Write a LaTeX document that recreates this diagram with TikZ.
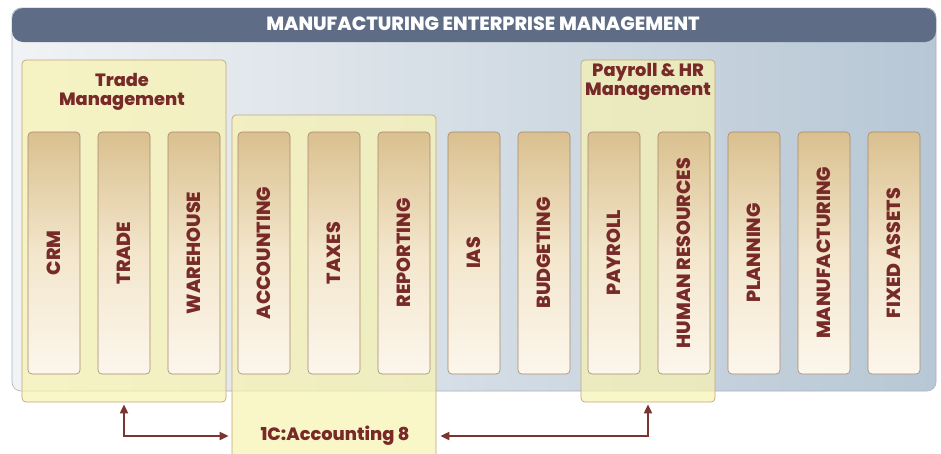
\documentclass[tikz,border=0pt]{standalone}
\usepackage{fontspec}
\newfontfamily\pop{Poppins}[BoldFont={Poppins ExtraBold}]
\usetikzlibrary{arrows.meta}
\definecolor{hdr}{HTML}{5E6D85}
\definecolor{bodyL}{HTML}{F1F3F5}
\definecolor{bodyR}{HTML}{B7C7D5}
\definecolor{bodyline}{HTML}{A7B3BF}
\definecolor{yel}{HTML}{F8F3B2}
\definecolor{yelline}{HTML}{C3A67C}
\definecolor{colT}{HTML}{DAC08F}
\definecolor{colM}{HTML}{F3E6CC}
\definecolor{colB}{HTML}{FCF6EC}
\definecolor{colline}{HTML}{A8876C}
\definecolor{txt}{HTML}{772A28}
\definecolor{arrc}{HTML}{7A3432}
\begin{document}
\begin{tikzpicture}[x=1pt,y=-1pt,
  bodybox/.style={draw=bodyline, line width=0.6pt, rounded corners=9pt, inner sep=0pt,
    left color=bodyL, right color=bodyR, minimum width=924pt, minimum height=383pt},
  hdrbox/.style={fill=hdr, rounded corners=11pt, inner sep=0pt, minimum width=924pt, minimum height=34pt},
  hdrtxt/.style={text=white, font=\pop\bfseries\fontsize{19.1}{19.1}\selectfont, inner sep=0pt},
  grp/.style={draw=yelline, line width=0.7pt, fill=yel, fill opacity=0.72, rounded corners=4pt, inner sep=0pt},
  grptxt/.style={text=txt, font=\pop\bfseries\fontsize{17.8}{18.5}\selectfont, align=center, inner sep=0pt},
  col/.style={draw=colline, line width=0.6pt, rounded corners=4pt, inner sep=0pt,
    top color=colT, bottom color=colB, middle color=colM, minimum width=52pt, minimum height=242pt},
  lbl/.style={text=txt, font=\pop\bfseries\fontsize{19}{19}\selectfont, rotate=90, inner sep=0pt},
  arr/.style={draw=arrc, line width=1.8pt, {Triangle[length=9pt,width=8pt]}-{Triangle[length=9pt,width=8pt]}}
]
\useasboundingbox (0,0) rectangle (941,453);
\fill[white] (0,0) rectangle (941,453);
% main body
\node[bodybox] (body) at (474,199.5) {};
\node[hdrbox] (hdr) at (474,25) {};
\node[hdrtxt] (hdrt) at (483,23.5) {MANUFACTURING ENTERPRISE MANAGEMENT};
% group boxes
\node[grp, minimum width=204pt, minimum height=342pt] (tm) at (124,231) {};
\node[grp, minimum width=204pt, minimum height=345pt] (acc) at (334,287.5) {};
\node[grp, minimum width=134pt, minimum height=342pt] (pr) at (648,231) {};
\node[grptxt] (tmt) at (122,92) {Trade\\Management};
\node[grptxt] (prt) at (648,82) {Payroll \& HR\\Management};
\node[grptxt] (acct) at (335,436) {1C:Accounting 8};
% columns
\foreach \i/\t in {0/CRM,1/TRADE,2/WAREHOUSE,3/ACCOUNTING,4/TAXES,5/REPORTING,6/IAS,7/BUDGETING,8/PAYROLL,9/HUMAN RESOURCES,10/PLANNING,11/MANUFACTURING,12/FIXED ASSETS}{
  \node[col] (c\i) at (54+70*\i,253) {};
  \node[lbl] (l\i) at (c\i) {\t};
}
% connectors
\coordinate (jl) at (tm.south |- acct);
\coordinate (jr) at (pr.south |- acct);
\draw[arr, shorten <=2pt, shorten >=3pt] (tm.south) -- (jl) -- (acc.west |- acct);
\draw[arr, shorten <=2pt, shorten >=4pt] (pr.south) -- (jr) -- (acc.east |- acct);
\end{tikzpicture}
\end{document}
